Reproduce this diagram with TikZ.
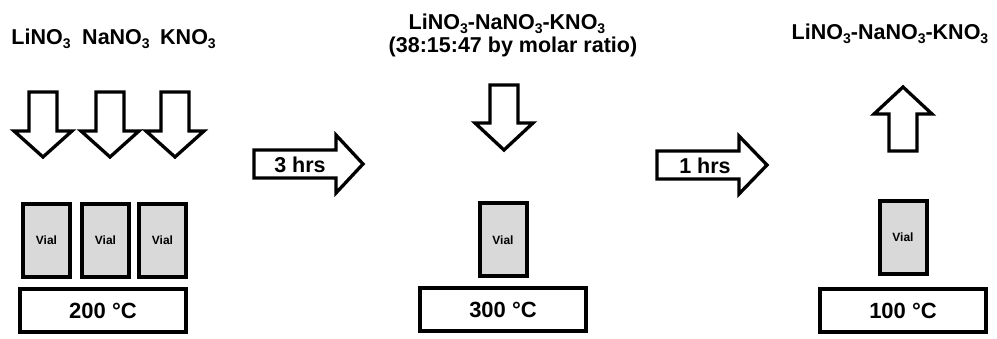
\documentclass[tikz,border=0pt]{standalone}
\usepackage{fontspec}
\setmainfont{Liberation Sans}
\newcommand\subn[1]{\raisebox{-4pt}{\fontsize{14}{14}\selectfont #1}}
\newcommand\dnArrow[4]{% cx, top, headY, tip
  \draw[blockarrow] ({#1-14},#2) -- ({#1+14},#2) -- ({#1+14},#3) -- ({#1+29},#3)
     -- (#1,#4) -- ({#1-29},#3) -- ({#1-14},#3) -- cycle;}
\newcommand\upArrow[4]{% cx, bottom, headY, tip
  \draw[blockarrow] ({#1-14},#2) -- ({#1+14},#2) -- ({#1+14},#3) -- ({#1+29},#3)
     -- (#1,#4) -- ({#1-29},#3) -- ({#1-14},#3) -- cycle;}
\newcommand\rtArrow[4]{% left, cy, headX, tip
  \draw[blockarrow] (#1,{#2-14}) -- (#3,{#2-14}) -- (#3,{#2-29}) -- (#4,#2)
     -- (#3,{#2+29}) -- (#3,{#2+14}) -- (#1,{#2+14}) -- cycle;}
\begin{document}
\begin{tikzpicture}[x=1pt,y=-1pt,
  blockarrow/.style={draw=black,fill=white,line width=3.3pt,line join=miter},
  vial/.style={draw=black,fill=black!15,line width=4pt,minimum width=47pt,minimum height=73pt,
     inner sep=0pt,font=\fontsize{12}{13}\selectfont\bfseries},
  plate/.style={draw=black,fill=white,line width=4pt,minimum width=166pt,minimum height=43pt,
     inner sep=0pt,font=\fontsize{22}{24}\selectfont\bfseries},
  lbl/.style={inner sep=0pt,anchor=base,font=\fontsize{21.5}{24}\selectfont\bfseries}]
\useasboundingbox (0,0) rectangle (997,339);
% ---- left stage
\node[lbl] (li) at (41,45) {LiNO\subn{3}};
\node[lbl] (na) at (116,45) {NaNO\subn{3}};
\node[lbl] (k)  at (188,45) {KNO\subn{3}};
\dnArrow{43}{92}{131}{157}
\dnArrow{110}{92}{131}{157}
\dnArrow{175}{92}{131}{157}
\node[vial] (v1) at (46.5,240.5) {Vial};
\node[vial] (v2) at (105.5,240.5) {Vial};
\node[vial] (v3) at (162.5,240.5) {Vial};
\node[plate] (p1) at (103,311) {200 °C};
% ---- first transition
\rtArrow{254}{164}{336}{363}
\node[lbl,anchor=center] (t1) at (300,165) {3 hrs};
% ---- middle stage
\node[lbl] (mix1) at (507,30) {LiNO\subn{3}-NaNO\subn{3}-KNO\subn{3}};
\node[lbl] (mix2) at (513,53) {(38:15:47 by molar ratio)};
\dnArrow{504}{85}{123}{150}
\node[vial] (v4) at (503,240) {Vial};
\node[plate] (p2) at (503,310) {300 °C};
% ---- second transition
\rtArrow{657}{165}{739}{767}
\node[lbl,anchor=center] (t2) at (705,166) {1 hrs};
% ---- right stage
\node[lbl] (mix3) at (890,40) {LiNO\subn{3}-NaNO\subn{3}-KNO\subn{3}};
\upArrow{903}{151}{114}{87}
\node[vial] (v5) at (903,237.5) {Vial};
\node[plate] (p3) at (903,310.5) {100 °C};
\end{tikzpicture}
\end{document}
